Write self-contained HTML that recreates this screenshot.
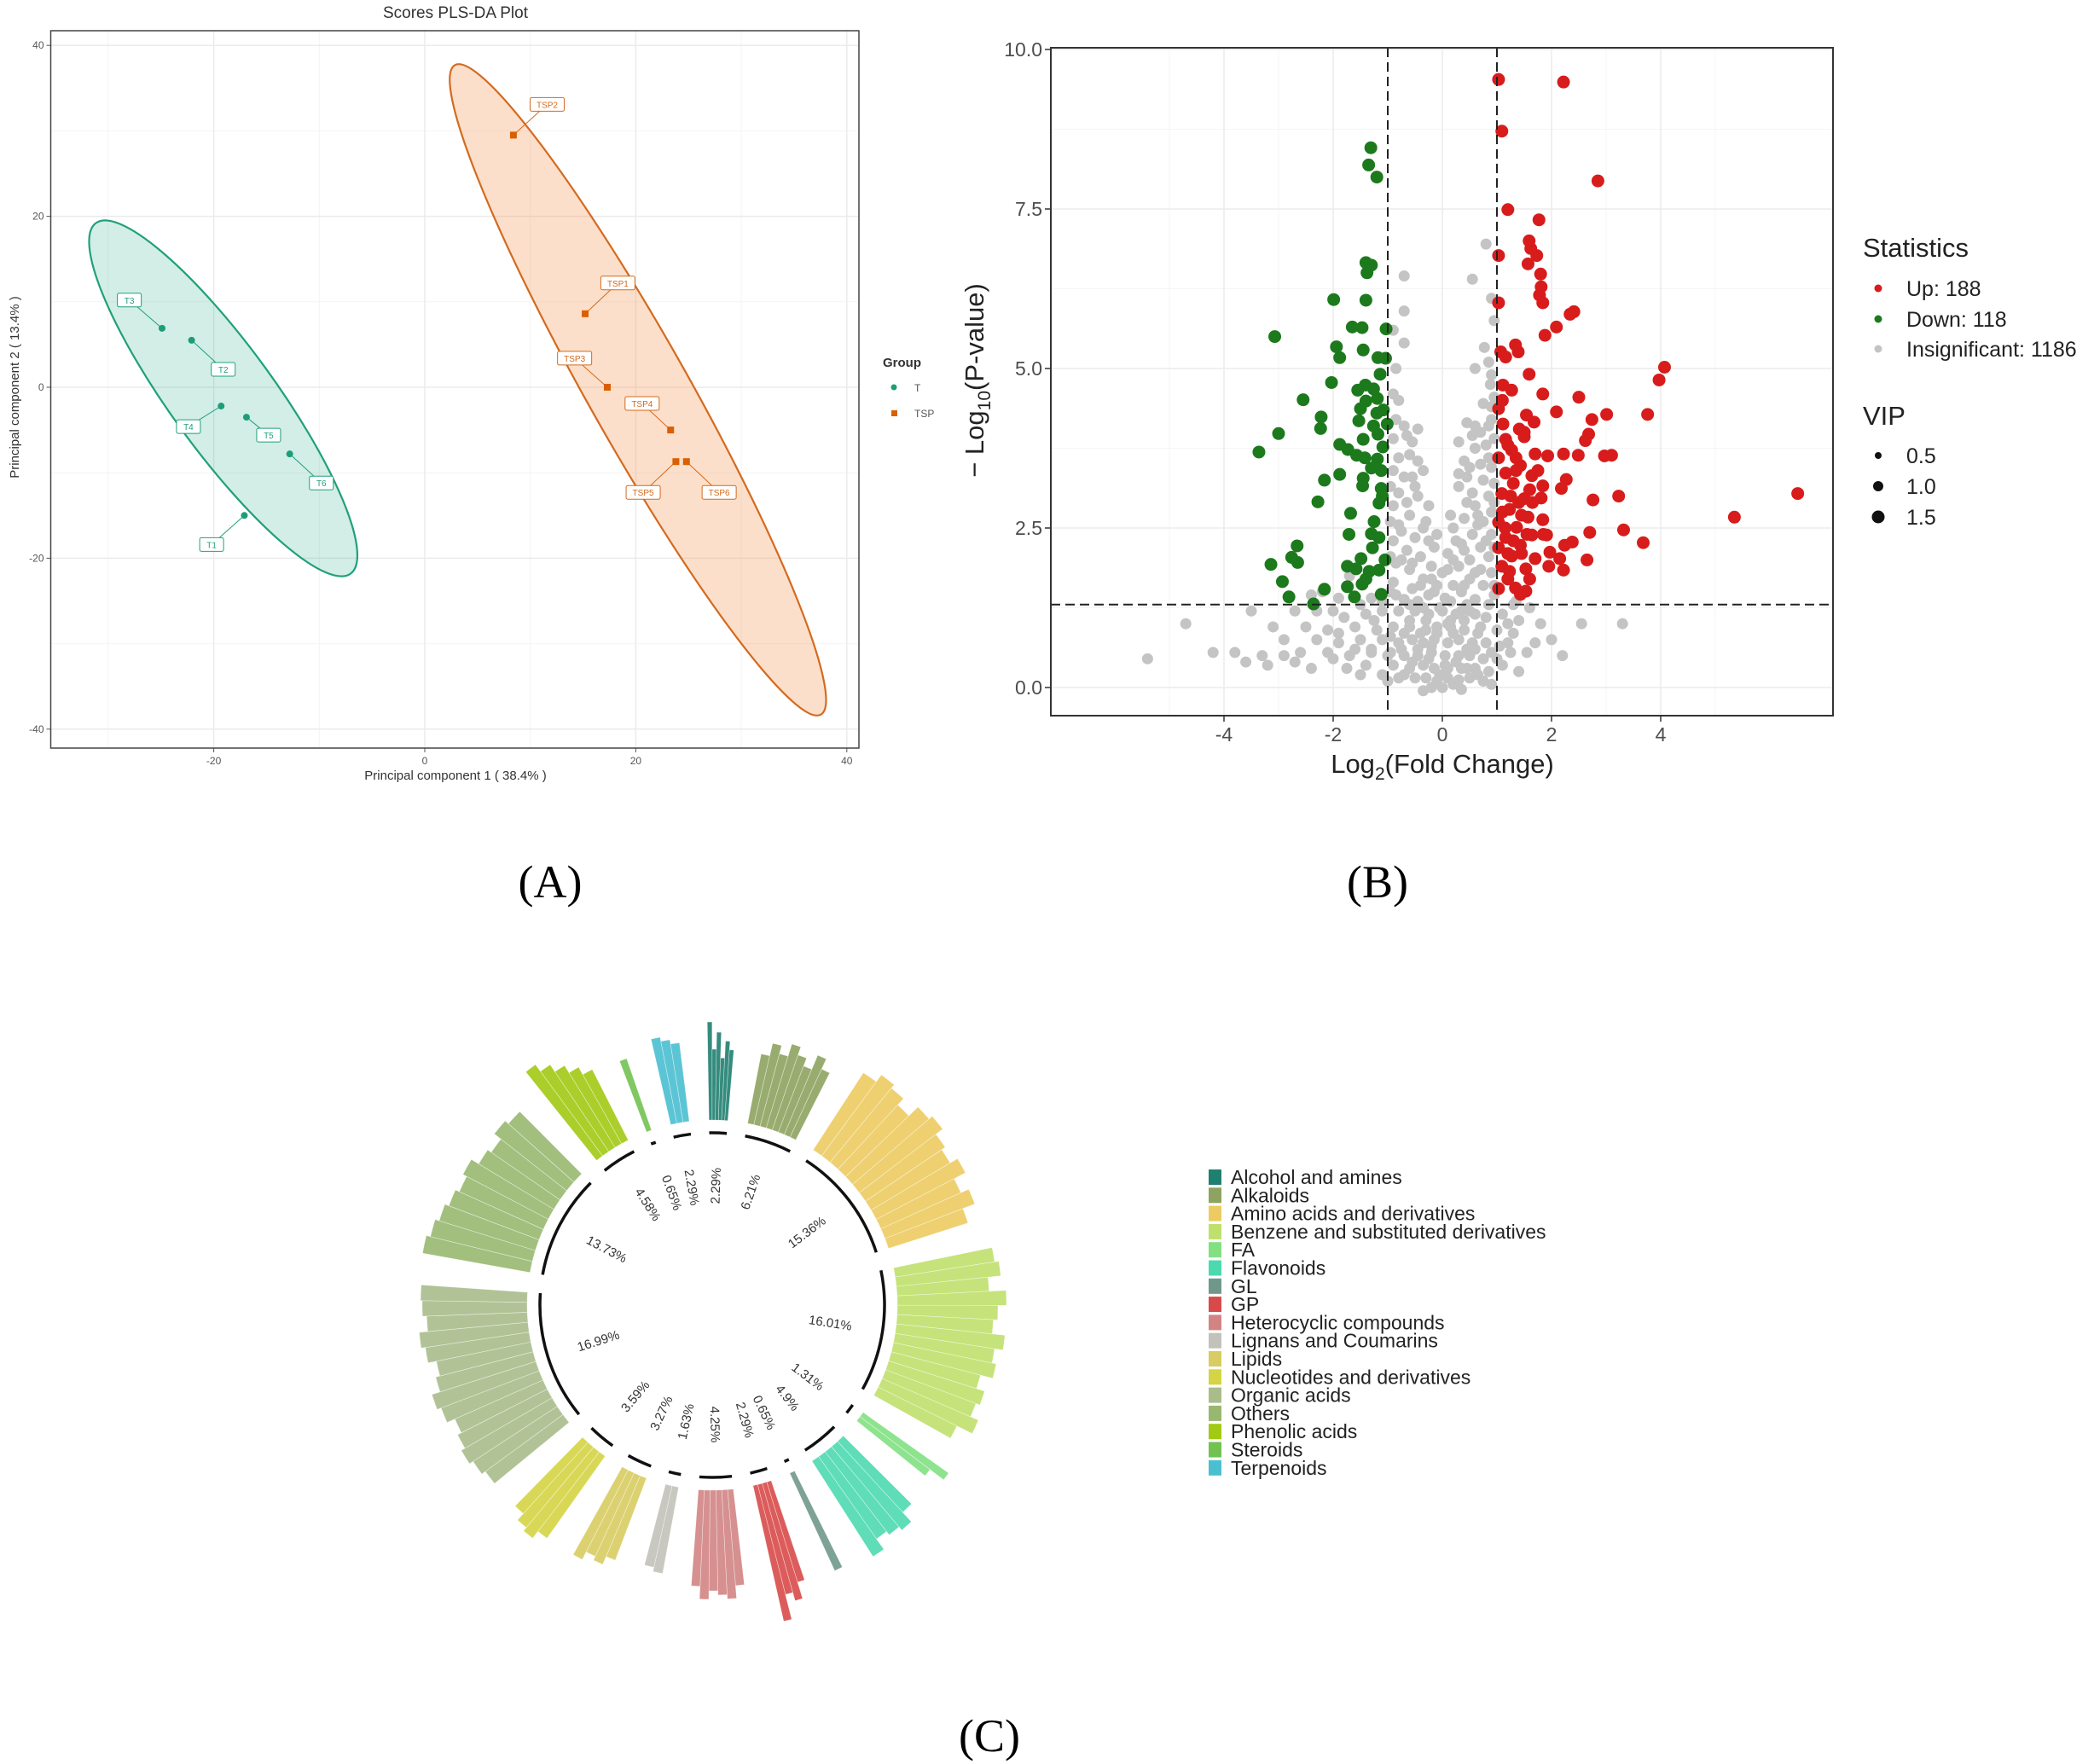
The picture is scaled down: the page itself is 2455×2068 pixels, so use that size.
<!DOCTYPE html>
<html><head><meta charset="utf-8"><style>
html,body{margin:0;padding:0;background:#fff;}
svg{display:block;font-family:"Liberation Sans",sans-serif;}
</style></head><body>
<svg id="fig" width="2455" height="2068" viewBox="0 0 2455 2068" xmlns="http://www.w3.org/2000/svg"></svg>
<script>
// ---------- Panel A data ----------
const tPC1 = [-24.9,-22.1,-19.3,-16.9,-12.8,-17.1];
const tPC2 = [6.9,5.5,-2.2,-3.5,-7.8,-15.0];
const tNames = ["T3","T2","T4","T5","T6","T1"];
const tLabX = [-28,-19.1,-22.4,-14.8,-9.8,-20.2];
const tLabY = [10.2,2.1,-4.6,-5.6,-11.2,-18.4];
const tspPC1 = [8.4,15.2,17.3,23.3,23.8,24.8];
const tspPC2 = [29.5,8.6,0.0,-5.0,-8.7,-8.7];
const tspNames = ["TSP2","TSP1","TSP3","TSP4","TSP5","TSP6"];
const tspLabX = [11.6,18.3,14.2,20.6,20.7,27.9];
const tspLabY = [33.1,12.2,3.4,-1.9,-12.3,-12.3];
const aXTicks = [-20,0,20,40];
const aYTicks = [40,20,0,-20,-40];
// ---------- Panel B data ----------
const upPts = [[1.03,9.53],[2.22,9.49],[1.09,8.72],[2.85,7.94],[1.2,7.49],[1.77,7.33],[1.59,7.0],[1.62,6.88],[1.03,6.77],[1.73,6.77],[1.57,6.64],[1.8,6.48],[1.81,6.28],[1.78,6.15],[1.84,6.03],[1.03,6.03],[2.41,5.89],[2.34,5.85],[2.09,5.65],[1.88,5.52],[1.34,5.37],[1.07,5.26],[1.39,5.26],[1.16,5.18],[4.07,5.02],[1.59,4.91],[3.97,4.82],[1.11,4.74],[1.27,4.66],[1.84,4.6],[2.5,4.55],[1.03,4.37],[2.09,4.32],[3.01,4.28],[3.76,4.28],[1.54,4.27],[2.74,4.2],[1.68,4.16],[1.11,4.13],[1.41,4.05],[2.68,3.97],[2.62,3.87],[1.16,3.89],[1.5,3.93],[1.27,3.72],[1.7,3.66],[1.93,3.63],[2.22,3.66],[2.49,3.64],[2.97,3.63],[3.1,3.64],[1.03,3.6],[1.43,3.48],[1.16,3.36],[1.64,3.32],[2.27,3.26],[1.3,3.2],[1.84,3.16],[2.18,3.12],[1.09,3.04],[6.51,3.04],[3.23,3.0],[1.5,2.96],[2.76,2.94],[1.81,2.97],[1.23,2.79],[1.57,2.67],[5.35,2.67],[1.84,2.63],[1.03,2.59],[1.36,2.51],[3.32,2.47],[2.7,2.43],[1.64,2.39],[1.16,2.35],[1.91,2.39],[3.68,2.27],[2.38,2.28],[2.24,2.23],[1.43,2.23],[1.03,2.19],[1.97,2.12],[1.27,2.06],[1.7,2.02],[2.65,2.0],[2.15,2.02],[1.09,1.9],[1.95,1.9],[1.53,1.86],[2.22,1.84],[1.23,1.82],[1.03,1.55],[1.53,1.51],[1.34,1.56],[1.43,1.46],[1.2,3.8],[1.35,3.4],[1.25,3.0],[1.45,2.7],[1.15,2.5],[1.3,2.3],[1.45,2.1],[1.1,2.75],[1.6,3.1],[1.4,2.9],[1.2,1.7],[1.6,1.7],[1.1,4.5],[1.5,4.0],[1.35,3.6],[1.75,3.4],[1.65,2.9],[1.85,2.4],[1.2,2.1],[1.55,2.4]];
const downPts = [[-1.31,8.46],[-1.35,8.19],[-1.2,8.0],[-1.4,6.66],[-1.3,6.62],[-1.38,6.5],[-1.99,6.08],[-1.4,6.07],[-1.65,5.65],[-1.47,5.64],[-1.03,5.62],[-3.07,5.5],[-1.94,5.34],[-1.45,5.29],[-1.88,5.17],[-1.18,5.17],[-1.04,5.16],[-1.14,4.91],[-2.03,4.78],[-1.41,4.74],[-1.55,4.66],[-1.26,4.68],[-2.55,4.51],[-1.19,4.53],[-1.4,4.49],[-1.5,4.37],[-2.22,4.24],[-1.08,4.35],[-1.53,4.18],[-1.26,4.1],[-1.01,4.13],[-2.23,4.06],[-3.0,3.98],[-1.18,3.97],[-1.45,3.89],[-1.88,3.81],[-1.09,3.77],[-3.36,3.69],[-1.73,3.73],[-1.57,3.64],[-1.42,3.6],[-1.19,3.58],[-1.3,3.44],[-1.88,3.34],[-1.45,3.28],[-1.12,3.4],[-2.16,3.25],[-1.46,3.16],[-1.12,3.12],[-2.28,2.91],[-1.16,2.89],[-1.68,2.73],[-1.71,2.4],[-1.3,2.41],[-1.16,2.35],[-2.66,2.22],[-1.28,2.19],[-2.76,2.04],[-1.49,2.02],[-2.65,1.96],[-3.14,1.93],[-1.74,1.9],[-1.58,1.86],[-1.34,1.82],[-1.16,1.84],[-2.93,1.66],[-1.74,1.58],[-1.47,1.62],[-2.16,1.54],[-2.81,1.42],[-2.36,1.31],[-1.61,1.42],[-1.12,1.46],[-1.2,4.3],[-1.1,3.0],[-1.25,2.6],[-1.05,2.0],[-1.4,1.7]];
const grayPts = [[0.8,6.95],[0.55,6.4],[-0.7,6.45],[-0.7,5.9],[-0.7,5.4],[0.95,5.75],[0.77,5.33],[0.6,5.0],[0.9,4.9],[0.95,4.55],[0.9,4.4],[-0.85,4.2],[-0.7,4.1],[0.45,4.15],[0.6,4.1],[0.85,4.1],[-0.9,3.9],[-0.55,3.85],[0.3,3.85],[0.6,3.75],[0.8,3.8],[-0.6,3.65],[-0.45,3.55],[0.4,3.55],[0.7,3.5],[0.9,3.45],[-0.9,3.4],[-0.7,3.3],[0.45,3.3],[0.75,3.25],[-0.5,3.15],[-0.8,3.05],[0.3,3.15],[0.55,3.05],[0.85,3.0],[-0.45,3.0],[-0.9,2.85],[0.6,2.85],[0.9,2.75],[-0.6,2.7],[0.4,2.65],[0.75,2.6],[-0.8,2.55],[-0.35,2.5],[0.2,2.5],[0.55,2.4],[0.9,2.4],[-0.5,2.35],[-0.25,2.3],[-0.9,2.3],[0.35,2.25],[0.7,2.2],[-0.65,2.15],[0.1,2.1],[0.85,2.05],[-0.4,2.05],[0.5,2.0],[-0.85,1.95],[-0.2,1.9],[0.3,1.9],[0.7,1.85],[-0.6,1.85],[0.0,1.8],[0.9,1.8],[-1.7,1.75],[-0.35,1.7],[0.5,1.7],[-0.9,1.65],[0.2,1.6],[-0.1,1.6],[0.75,1.6],[-2.2,1.5],[-0.55,1.55],[0.35,1.5],[-0.25,1.45],[0.95,1.45],[-2.4,1.45],[-1.9,1.4],[0.05,1.4],[-0.7,1.38],[0.6,1.38],[1.3,1.3],[-3.5,1.2],[-2.7,1.2],[-2.3,1.2],[-1.8,1.1],[-1.4,1.15],[-1.1,1.2],[-0.8,1.2],[-0.5,1.2],[-0.25,1.15],[0.0,1.2],[0.25,1.15],[0.5,1.2],[0.8,1.1],[1.1,1.15],[1.4,1.05],[2.55,1.0],[3.3,1.0],[-4.7,1.0],[-2.5,0.95],[-2.1,0.9],[-1.6,0.95],[-1.2,0.9],[-0.9,0.95],[-0.6,0.95],[-0.3,0.9],[-0.1,0.95],[0.15,0.95],[0.4,0.9],[0.7,0.95],[1.0,0.9],[1.3,0.85],[-2.3,0.75],[-1.9,0.7],[-1.5,0.75],[-1.1,0.75],[-0.8,0.7],[-0.55,0.75],[-0.35,0.7],[-0.15,0.75],[0.1,0.7],[0.3,0.75],[0.55,0.7],[0.8,0.7],[1.05,0.65],[1.7,0.7],[2.0,0.75],[-3.8,0.55],[-3.3,0.5],[-2.9,0.5],[-2.6,0.55],[-2.1,0.55],[-1.7,0.5],[-1.3,0.55],[-1.0,0.5],[-0.7,0.5],[-0.45,0.5],[-0.2,0.55],[0.05,0.5],[0.3,0.5],[0.5,0.5],[0.75,0.45],[1.0,0.45],[-5.4,0.45],[-4.2,0.55],[-3.6,0.4],[-2.7,0.4],[-1.4,0.35],[-0.9,0.35],[-0.6,0.3],[-0.35,0.35],[-0.15,0.3],[0.1,0.3],[0.35,0.3],[0.6,0.3],[0.85,0.25],[1.4,0.25],[-0.5,0.15],[-0.3,0.15],[-0.1,0.1],[0.1,0.15],[0.3,0.12],[0.5,0.15],[-0.2,0.0],[0.0,0.0],[0.2,0.05],[-1.1,0.2],[-0.8,0.15],[0.75,0.1],[-1.1,1.35],[1.35,1.35],[-0.6,1.05],[-0.4,0.85],[-0.2,0.65],[0.2,0.85],[0.4,1.05],[0.6,0.6],[-0.75,0.6],[-0.05,1.25],[0.15,1.05],[-0.3,1.05],[-0.45,1.35],[0.45,1.3],[-0.95,2.6],[-0.95,3.15],[0.95,3.2],[0.95,2.2],[-0.75,2.45],[0.65,2.55],[0.2,2.0],[-0.15,2.2],
[-0.05,0.2],[0.05,0.35],[-0.25,0.45],[0.25,0.4],[0.45,0.6],[-0.45,0.6],[-0.1,0.85],[0.1,1.0],[0.35,1.2],[-0.35,1.25],[-0.6,1.3],[0.6,1.15],[0.85,1.3],[-0.85,1.45],[0.15,1.35],[-0.15,1.5],[0.4,1.6],[-0.4,1.6],[0.6,1.8],[-0.55,1.95],[0.8,2.3],[-0.75,2.0],[0.25,2.3],[-0.3,2.6],[0.65,2.7],[-0.65,2.9],[0.5,3.45],[-0.55,3.3],[0.85,3.6],[-0.8,3.6],[0.7,4.0],[-0.65,3.95],[0.9,4.2],[-0.9,4.6],[0.88,4.75],[0.95,3.9],[0.95,2.9],[-0.95,2.05],[-0.95,1.5],[0.95,1.6],[-1.3,0.6],[-1.6,0.6],[-1.9,0.85],[-2.0,1.2],[-1.25,1.05],[-0.95,0.8],[-0.7,0.85],[1.2,0.7],[1.2,1.0],[0.9,0.55],[0.65,0.85],[-0.55,0.4],[0.45,0.3],[-0.7,0.2],[0.65,0.2],[-0.95,0.55],[1.1,0.35],[1.55,0.55],[1.25,0.55],[-1.5,0.2],[-1.0,0.1],[0.9,0.05],[-0.35,-0.05],[0.35,-0.03],[-2.9,0.75],[-3.1,0.95],[-2.0,0.45],[-1.75,0.3],[-2.4,0.3],[-3.2,0.35],[1.8,1.0],[2.2,0.5],[1.6,1.25],[-1.5,1.3],[-1.3,1.4],[-0.2,1.7],[0.1,1.85],[0.4,2.15],[-0.1,2.4],[0.15,2.7],[0.45,2.9],[-0.25,2.85],[0.3,3.35],[-0.35,3.4],[0.55,3.95],[-0.45,4.05],[0.75,4.45],[-0.8,4.5],[0.85,5.1],[-0.85,5.0],[-0.9,5.6],[0.9,6.1]];
const bXTicks = [-4,-2,0,2,4];
const bYTicks = [0,2.5,5,7.5,10];
const fcThresh = 1, pThresh = 1.3;
// ---------- Panel C data ----------
const classNames = ["Alcohol and amines","Alkaloids","Amino acids and derivatives","Benzene and substituted derivatives","FA","Flavonoids","GL","GP","Heterocyclic compounds","Lignans and Coumarins","Lipids","Nucleotides and derivatives","Organic acids","Others","Phenolic acids","Steroids","Terpenoids"];
const classPct = [2.29,6.21,15.36,16.01,1.31,4.9,0.65,2.29,4.25,1.63,3.27,3.59,16.99,13.73,4.58,0.65,2.29];
const classColors = ["#1f8070","#8ea35f","#eccb62","#bfe06c","#82e082","#4cd9b0","#70988a","#d84a4a","#d28484","#c2c2ba","#d8cc62","#d4d444","#a9bd8b","#98b870","#a2c914","#72c252","#4abfd0"];
const classHeights = [
 [332,300,320,290,310,300],
 [300,315,305,320,310,300,318,305],
 [325,335,330,320,335,340,330,325,335,320,330,315],
 [335,340,325,345,335,330,345,335,340,325,335,330,340,320],
 [340,320],
 [330,345,340,335,350],
 [343],
 [340,360,350,380],
 [330,345,340,335,345,330],
 [320,315],
 [320,330,325,335],
 [335,345,340,330],
 [330,335,340,335,330,340,345,335,330,340,345,335,340,342],
 [345,340,335,330,325,330,320,315,325,320],
 [350,340,330,320,310],
 [306],
 [320,315,310]
];

const NS="http://www.w3.org/2000/svg";
const svg=document.getElementById('fig');
function mk(tag,attrs,parent){const e=document.createElementNS(NS,tag);for(const k in attrs)e.setAttribute(k,attrs[k]);(parent||svg).appendChild(e);return e;}
function txt(s,attrs,parent){const e=mk('text',attrs,parent);e.textContent=s;return e;}

// ================= PANEL A =================
const gA=mk('g',{});


const aL=59.5,aR=1007,aT=36,aB=877;
const ax=v=>498+v*12.37, ay=v=>454-v*10.02;
const aBg=mk('rect',{x:aL,y:aT,width:aR-aL,height:aB-aT,fill:'#fff'},gA);


[-30,-10,10,30].forEach(v=>{mk('line',{x1:ax(v),x2:ax(v),y1:aT,y2:aB,stroke:'#f4f4f4','stroke-width':1},gA);mk('line',{x1:aL,x2:aR,y1:ay(v),y2:ay(v),stroke:'#f4f4f4','stroke-width':1},gA);});
aXTicks.forEach(v=>{mk('line',{x1:ax(v),x2:ax(v),y1:aT,y2:aB,stroke:'#ebebeb','stroke-width':1.5},gA);
 mk('line',{x1:ax(v),x2:ax(v),y1:aB,y2:aB+5,stroke:'#555'},gA);
 const t=txt(String(v),{x:ax(v),y:aB+19,'font-size':12,fill:'#555','text-anchor':'middle'},gA);
 
 });
aYTicks.forEach(v=>{mk('line',{x1:aL,x2:aR,y1:ay(v),y2:ay(v),stroke:'#ebebeb','stroke-width':1.5},gA);
 mk('line',{x1:aL-5,x2:aL,y1:ay(v),y2:ay(v),stroke:'#555'},gA);
 const t=txt(String(v),{x:aL-8,y:ay(v)+4,'font-size':12,fill:'#555','text-anchor':'end'},gA);
 
 });
function ellipse(cxD,cyD,rx,ry,ang,stroke,fill,name){
 const e=mk('ellipse',{cx:0,cy:0,rx:rx,ry:ry,fill:fill,stroke:stroke,'stroke-width':2.2,transform:`translate(${ax(cxD)},${ay(cyD)}) rotate(${ang})`},gA);
 
 }
ellipse(-19.1,-1.3,254,61,54,'#20a07a','rgba(32,170,130,0.2)','t-confidence-ellipse');
ellipse(20.2,-0.3,437,59,60.6,'#d46a1e','rgba(245,150,80,0.3)','tsp-confidence-ellipse');
mk('rect',{x:aL,y:aT,width:aR-aL,height:aB-aT,fill:'none',stroke:'#444','stroke-width':1.5},gA);
function labels(X,Y,LX,LY,N,col,w,nm){
 for(let i=0;i<X.length;i++){
  mk('line',{x1:ax(X[i]),y1:ay(Y[i]),x2:ax(LX[i]),y2:ay(LY[i]),stroke:col,'stroke-width':1},gA);
  const g=mk('g',{},gA);
  
  
  mk('rect',{x:ax(LX[i])-w/2,y:ay(LY[i])-8,width:w,height:16,rx:2,fill:'#fff',stroke:col,'stroke-width':1},g);
  txt(N[i],{x:ax(LX[i]),y:ay(LY[i])+4,'font-size':10,fill:col,'text-anchor':'middle'},g);
 }}
labels(tPC1,tPC2,tLabX,tLabY,tNames,'#20a07a',28,'t-sample-label');
labels(tspPC1,tspPC2,tspLabX,tspLabY,tspNames,'#d46a1e',40,'tsp-sample-label');
tPC1.forEach((v,i)=>{const c=mk('circle',{cx:ax(v),cy:ay(tPC2[i]),r:4,fill:'#1b9e77'},gA);
 
 });
tspPC1.forEach((v,i)=>{const c=mk('rect',{x:ax(v)-4,y:ay(tspPC2[i])-4,width:8,height:8,fill:'#d95f02'},gA);
 
 });
let e;
e=txt('Scores PLS-DA Plot',{x:534,y:21,'font-size':19,fill:'#333','text-anchor':'middle'},gA);


e=txt('Principal component 1 ( 38.4% )',{x:534,y:914,'font-size':15,fill:'#333','text-anchor':'middle'},gA);


e=txt('Principal component 2 ( 13.4% )',{x:0,y:0,'font-size':15,fill:'#333','text-anchor':'middle',transform:'translate(22,454) rotate(-90)'},gA);


e=txt('Group',{x:1035,y:430,'font-size':15,'font-weight':'bold',fill:'#333'},gA);


mk('circle',{cx:1048,cy:454,r:3.5,fill:'#1b9e77'},gA);
e=txt('T',{x:1072,y:459,'font-size':12,fill:'#555'},gA);


mk('rect',{x:1045,y:481,width:7,height:7,fill:'#d95f02'},gA);
e=txt('TSP',{x:1072,y:489,'font-size':12,fill:'#555'},gA);



// ================= PANEL B =================
const gB=mk('g',{});


const bL=1232,bR=2149,bT=56,bBt=839;
const bx=v=>1691+v*64, by=v=>806-v*74.8;
[-5,-3,-1,1,3,5].forEach(v=>mk('line',{x1:bx(v),x2:bx(v),y1:bT,y2:bBt,stroke:'#f5f5f5','stroke-width':1},gB));
[1.25,3.75,6.25,8.75].forEach(v=>mk('line',{x1:bL,x2:bR,y1:by(v),y2:by(v),stroke:'#f5f5f5','stroke-width':1},gB));
bXTicks.forEach(v=>{mk('line',{x1:bx(v),x2:bx(v),y1:bT,y2:bBt,stroke:'#ebebeb','stroke-width':1.5},gB);
 mk('line',{x1:bx(v),x2:bx(v),y1:bBt,y2:bBt+7,stroke:'#333','stroke-width':1.5},gB);
 const t=txt(String(v),{x:bx(v),y:bBt+30,'font-size':23,fill:'#4d4d4d','text-anchor':'middle'},gB);
 
 });
bYTicks.forEach(v=>{mk('line',{x1:bL,x2:bR,y1:by(v),y2:by(v),stroke:'#ebebeb','stroke-width':1.5},gB);
 mk('line',{x1:bL-7,x2:bL,y1:by(v),y2:by(v),stroke:'#333','stroke-width':1.5},gB);
 const t=txt(v.toFixed(1),{x:bL-10,y:by(v)+8,'font-size':23,fill:'#4d4d4d','text-anchor':'end'},gB);
 
 });
grayPts.forEach(p=>{const c=mk('circle',{cx:bx(p[0]),cy:by(p[1]),r:6.5,fill:'#c4c4c4'},gB);
 
 });
downPts.forEach(p=>{const c=mk('circle',{cx:bx(p[0]),cy:by(p[1]),r:7.5,fill:'#1c7a1c'},gB);
 
 });
upPts.forEach(p=>{const c=mk('circle',{cx:bx(p[0]),cy:by(p[1]),r:7.5,fill:'#d81c1c'},gB);
 
 });
[-fcThresh,fcThresh].forEach(v=>{const l=mk('line',{x1:bx(v),x2:bx(v),y1:bT,y2:bBt,stroke:'#222','stroke-width':2,'stroke-dasharray':'11,6'},gB);
 
 });
e=mk('line',{x1:bL,x2:bR,y1:by(pThresh),y2:by(pThresh),stroke:'#222','stroke-width':2,'stroke-dasharray':'11,6'},gB);


mk('rect',{x:bL,y:bT,width:bR-bL,height:bBt-bT,fill:'none',stroke:'#333','stroke-width':2},gB);
e=mk('text',{x:1691,y:906,'font-size':31,fill:'#222','text-anchor':'middle'},gB);
e.innerHTML='Log<tspan font-size="21" dy="8">2</tspan><tspan dy="-8">(Fold Change)</tspan>';


e=mk('text',{x:0,y:0,'font-size':31,fill:'#222','text-anchor':'middle',transform:'translate(1153,446) rotate(-90)'},gB);
e.innerHTML='− Log<tspan font-size="21" dy="8">10</tspan><tspan dy="-8">(P-value)</tspan>';


e=txt('Statistics',{x:2184,y:301,'font-size':31,fill:'#222'},gB);


[['Up: 188','#d81c1c',338],['Down: 118','#1c7a1c',374],['Insignificant: 1186','#c4c4c4',409]].forEach(r=>{
 mk('circle',{cx:2202,cy:r[2],r:4.5,fill:r[1]},gB);
 const t=txt(r[0],{x:2235,y:r[2]+9,'font-size':25,fill:'#222'},gB);
 
 });
e=txt('VIP',{x:2184,y:498,'font-size':31,fill:'#222'},gB);


[['0.5',4,534],['1.0',6,570],['1.5',7.5,606]].forEach(r=>{
 mk('circle',{cx:2202,cy:r[2],r:r[1],fill:'#111'},gB);
 const t=txt(r[0],{x:2235,y:r[2]+9,'font-size':25,fill:'#222'},gB);
 
 });

// ================= PANEL C =================
const gC=mk('g',{});


const cx=835,cy=1530,rIn=217,rArc=202,rLab=140,degPct=2.55,gapDeg=6.18,startDeg=-1;
const P=(r,a)=>{const t=a*Math.PI/180;return [cx+r*Math.sin(t),cy-r*Math.cos(t)];};
let ang=startDeg;
classPct.forEach((pct,i)=>{
 const span=pct*degPct, hs=classHeights[i], step=span/hs.length;
 const grp=mk('g',{},gC);
 
 
 hs.forEach((h,j)=>{
  const a0=ang+j*step,a1=a0+step;
  const p1=P(rIn,a0),p2=P(h,a0),p3=P(h,a1),p4=P(rIn,a1);
  const w=mk('path',{d:`M${p1}L${p2}A${h},${h} 0 0 1 ${p3}L${p4}A${rIn},${rIn} 0 0 0 ${p1}Z`,fill:classColors[i],'fill-opacity':0.9,stroke:'#fff','stroke-width':0.6,'stroke-opacity':0.6},grp);
  
  
 });
 const q1=P(rArc,ang),q2=P(rArc,ang+span);
 const arc=mk('path',{d:`M${q1}A${rArc},${rArc} 0 0 1 ${q2}`,fill:'none',stroke:'#111','stroke-width':3.5},gC);
 
 
 const mid=ang+span/2, lp=P(rLab,mid);
 const rot= mid<180 ? mid-90 : mid-270;
 const t=txt(pct+'%',{x:lp[0],y:lp[1],'font-size':15,fill:'#333','text-anchor':'middle','dominant-baseline':'central',transform:`rotate(${rot} ${lp[0]} ${lp[1]})`},gC);
 
 
 ang+=span+gapDeg;
});
classNames.forEach((n,i)=>{
 const y=1380+i*21.3;
 const sw=mk('rect',{x:1417,y:y-9,width:15,height:18,fill:classColors[i]},gC);
 
 
 const t=txt(n,{x:1443,y:y+8,'font-size':23,fill:'#222'},gC);
 
 
});

[['(A)',645,'panel-label-a',1052],['(B)',1615,'panel-label-b',1052],['(C)',1160,'panel-label-c',2053]].forEach(r=>{
 const t=txt(r[0],{x:r[1],y:r[3],'font-size':54,fill:'#000','text-anchor':'middle','font-family':'Liberation Serif, serif'});
 
 
});
</script>
</body></html>
